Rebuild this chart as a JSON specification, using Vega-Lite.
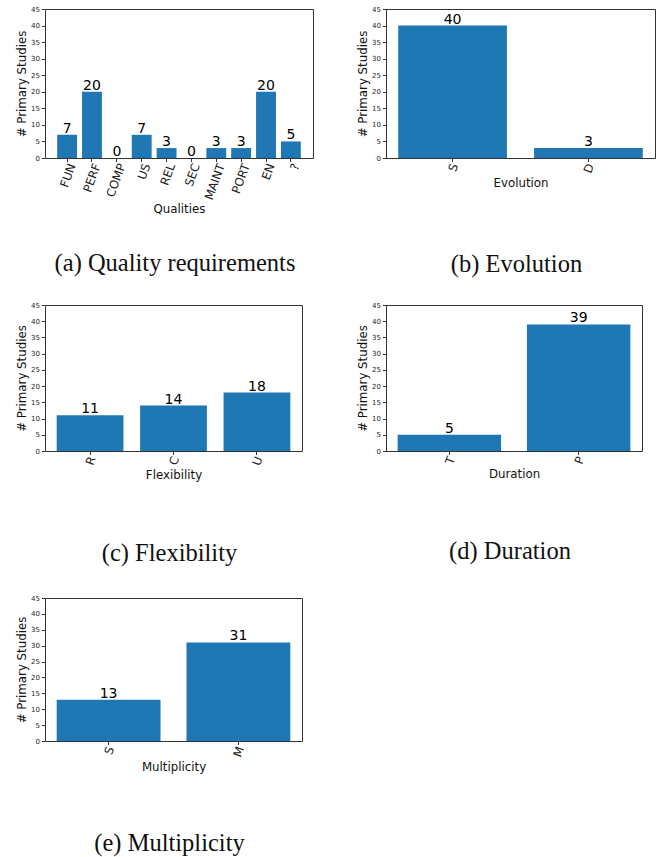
{
  "$schema": "https://vega.github.io/schema/vega-lite/v6.json",
  "background": "white",
  "padding": {"left": 16, "top": 4, "right": 5, "bottom": 5},
  "columns": 2,
  "spacing": {"row": 147, "column": 73},
  "bounds": "flush",
  "align": "each",
  "config": {
    "font": "DejaVu Sans",
    "view": {"stroke": "#333333", "strokeWidth": 1},
    "axis": {
      "grid": false,
      "domain": false,
      "tickColor": "#333333",
      "tickSize": 3.5,
      "labelColor": "#222222",
      "labelFont": "DejaVu Sans",
      "titleFont": "DejaVu Sans",
      "titleFontSize": 11.8,
      "titleFontWeight": "normal",
      "titleColor": "#111111"
    },
    "axisY": {"labelFontSize": 7, "labelPadding": 2, "titlePadding": 3},
    "axisX": {
      "labelFontSize": 11.8,
      "labelAngle": -70,
      "labelAlign": "right",
      "labelBaseline": "middle",
      "labelPadding": 2,
      "labelOffset": 2,
      "titlePadding": 3
    },
    "title": {"font": "Liberation Serif", "fontSize": 24.5, "fontWeight": "normal", "color": "#111111", "orient": "bottom", "anchor": "middle", "frame": "group", "dx": -4}
  },
  "datasets": {
    "qualities": [
      {"category": "FUN", "count": 7},
      {"category": "PERF", "count": 20},
      {"category": "COMP", "count": 0},
      {"category": "US", "count": 7},
      {"category": "REL", "count": 3},
      {"category": "SEC", "count": 0},
      {"category": "MAINT", "count": 3},
      {"category": "PORT", "count": 3},
      {"category": "EN", "count": 20},
      {"category": "?", "count": 5}
    ],
    "evolution": [
      {"category": "S", "count": 40},
      {"category": "D", "count": 3}
    ],
    "flexibility": [
      {"category": "R", "count": 11},
      {"category": "C", "count": 14},
      {"category": "U", "count": 18}
    ],
    "duration": [
      {"category": "T", "count": 5},
      {"category": "P", "count": 39}
    ],
    "multiplicity": [
      {"category": "S", "count": 13},
      {"category": "M", "count": 31}
    ]
  },
  "concat": [
    {
      "width": 268, "height": 149,
      "data": {"name": "qualities"},
      "title": {"text": "(a) Quality requirements", "offset": 37},
      "encoding": {
        "x": {"field": "category", "type": "nominal", "sort": null, "scale": {"paddingInner": 0.2, "paddingOuter": 0.49}, "axis": {"title": "Qualities", "labelOffset": 5, "titlePadding": 2}},
        "y": {"field": "count", "type": "quantitative", "scale": {"domain": [0, 45]}, "axis": {"title": "# Primary Studies", "values": [0, 5, 10, 15, 20, 25, 30, 35, 40, 45]}}
      },
      "layer": [
        {"mark": {"type": "bar", "color": "#1f77b4"}},
        {"mark": {"type": "text", "baseline": "alphabetic", "dy": -2, "fontSize": 14, "color": "black"}, "encoding": {"text": {"field": "count", "type": "quantitative"}}}
      ]
    },
    {
      "width": 269, "height": 149,
      "data": {"name": "evolution"},
      "title": {"text": "(b) Evolution", "offset": 64},
      "encoding": {
        "x": {"field": "category", "type": "nominal", "sort": null, "scale": {"paddingInner": 0.2, "paddingOuter": 0.09}, "axis": {"title": "Evolution"}},
        "y": {"field": "count", "type": "quantitative", "scale": {"domain": [0, 45]}, "axis": {"title": "# Primary Studies", "values": [0, 5, 10, 15, 20, 25, 30, 35, 40, 45]}}
      },
      "layer": [
        {"mark": {"type": "bar", "color": "#1f77b4"}},
        {"mark": {"type": "text", "baseline": "alphabetic", "dy": -2, "fontSize": 14, "color": "black"}, "encoding": {"text": {"field": "count", "type": "quantitative"}}}
      ]
    },
    {
      "width": 257, "height": 146,
      "data": {"name": "flexibility"},
      "title": {"text": "(c) Flexibility", "offset": 60},
      "encoding": {
        "x": {"field": "category", "type": "nominal", "sort": null, "scale": {"paddingInner": 0.2, "paddingOuter": 0.14}, "axis": {"title": "Flexibility"}},
        "y": {"field": "count", "type": "quantitative", "scale": {"domain": [0, 45]}, "axis": {"title": "# Primary Studies", "values": [0, 5, 10, 15, 20, 25, 30, 35, 40, 45]}}
      },
      "layer": [
        {"mark": {"type": "bar", "color": "#1f77b4"}},
        {"mark": {"type": "text", "baseline": "alphabetic", "dy": -2, "fontSize": 14, "color": "black"}, "encoding": {"text": {"field": "count", "type": "quantitative"}}}
      ]
    },
    {
      "width": 256, "height": 146,
      "data": {"name": "duration"},
      "title": {"text": "(d) Duration", "offset": 60},
      "encoding": {
        "x": {"field": "category", "type": "nominal", "sort": null, "scale": {"paddingInner": 0.2, "paddingOuter": 0.09}, "axis": {"title": "Duration"}},
        "y": {"field": "count", "type": "quantitative", "scale": {"domain": [0, 45]}, "axis": {"title": "# Primary Studies", "values": [0, 5, 10, 15, 20, 25, 30, 35, 40, 45]}}
      },
      "layer": [
        {"mark": {"type": "bar", "color": "#1f77b4"}},
        {"mark": {"type": "text", "baseline": "alphabetic", "dy": -2, "fontSize": 14, "color": "black"}, "encoding": {"text": {"field": "count", "type": "quantitative"}}}
      ]
    },
    {
      "width": 257, "height": 143,
      "data": {"name": "multiplicity"},
      "title": {"text": "(e) Multiplicity", "offset": 59},
      "encoding": {
        "x": {"field": "category", "type": "nominal", "sort": null, "scale": {"paddingInner": 0.2, "paddingOuter": 0.09}, "axis": {"title": "Multiplicity"}},
        "y": {"field": "count", "type": "quantitative", "scale": {"domain": [0, 45]}, "axis": {"title": "# Primary Studies", "values": [0, 5, 10, 15, 20, 25, 30, 35, 40, 45]}}
      },
      "layer": [
        {"mark": {"type": "bar", "color": "#1f77b4"}},
        {"mark": {"type": "text", "baseline": "alphabetic", "dy": -2, "fontSize": 14, "color": "black"}, "encoding": {"text": {"field": "count", "type": "quantitative"}}}
      ]
    }
  ]
}
